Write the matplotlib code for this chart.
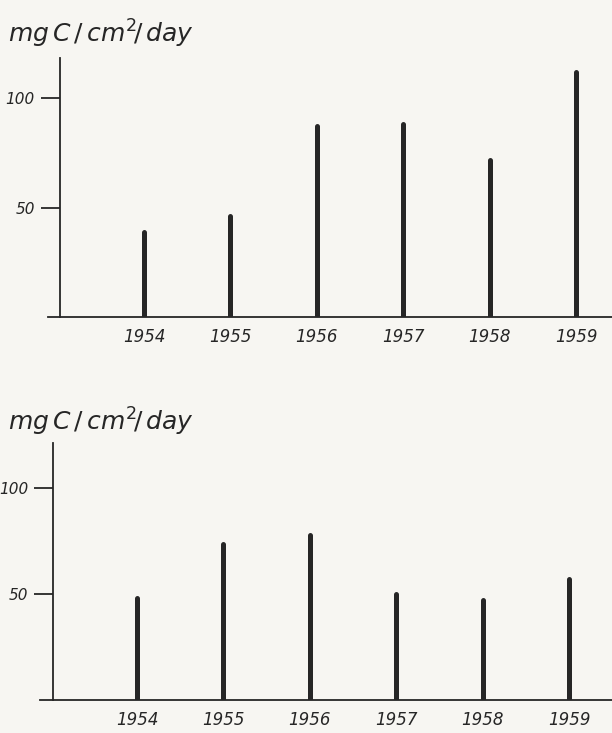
import matplotlib
matplotlib.use("Agg")
import matplotlib.pyplot as plt

years = ["1954", "1955", "1956", "1957", "1958", "1959"]
upper_values = [39, 46, 87.5, 88.5, 72, 112]
lower_values = [48, 73.5, 77.5, 50, 47, 57]
ytick_values = [50, 100]
unit_label = r"$mg\,C\,/\,cm^{2}\!/\,day$"

W, H = 612, 733
paper = "#f7f6f2"
ink = "#262626"

plt.rcParams["mathtext.fontset"] = "custom"
plt.rcParams["mathtext.it"] = "DejaVu Sans:italic"
plt.rcParams["mathtext.rm"] = "DejaVu Sans"

fig = plt.figure(figsize=(W / 100, H / 100), dpi=100, facecolor=paper)


def panel(left_px, right_px, top_px, bottom_px, spine_px, bar0_px, step_px,
          values, ymax, label_xy):
    ax = fig.add_axes([left_px / W, 1 - bottom_px / H,
                       (right_px - left_px) / W, (bottom_px - top_px) / H])
    ax.set_facecolor(paper)
    x = list(range(len(years)))
    ax.vlines(x, 0, values, colors=ink, linewidth=3.6, capstyle="round")
    last = len(years) - 1
    ax.set_xlim((left_px - bar0_px) / step_px,
                last + (right_px - (bar0_px + step_px * last)) / step_px)
    ax.set_ylim(0, ymax)
    for s in ("top", "right"):
        ax.spines[s].set_visible(False)
    ax.spines["left"].set_position(("data", (spine_px - bar0_px) / step_px))
    for s in ("left", "bottom"):
        ax.spines[s].set_color(ink)
        ax.spines[s].set_linewidth(1.3)
    ax.set_xticks(x)
    ax.set_xticklabels(years, fontstyle="italic", fontsize=12, color=ink)
    ax.tick_params(axis="x", length=0, pad=8)
    ax.set_yticks(ytick_values)
    ax.set_yticklabels([str(v) for v in ytick_values], fontstyle="italic",
                       fontsize=11, color=ink)
    ax.tick_params(axis="y", length=14, width=1.3, color=ink, pad=4)
    fig.text(label_xy[0] / W, 1 - label_xy[1] / H, unit_label, fontsize=18,
             color=ink, ha="left", va="center")
    return ax


panel(48, 612, 58, 317, 60, 144, 86.4, upper_values, 118.5, (8, 34))
panel(40, 612, 443, 700, 53, 137, 86.4, lower_values, 121, (8, 422))

fig.savefig("out.png", dpi=100, facecolor=paper)
